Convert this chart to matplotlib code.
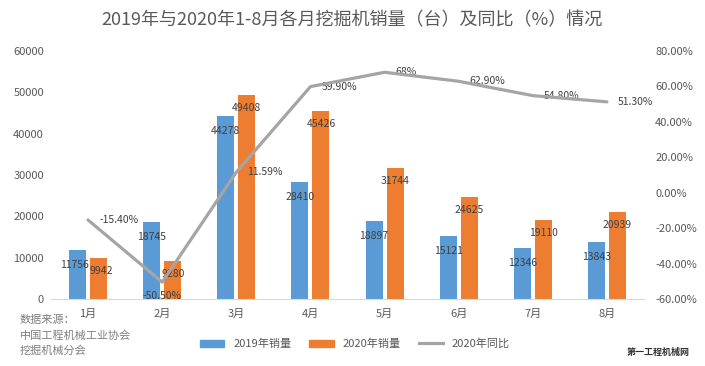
import numpy as np
import matplotlib; matplotlib.use("Agg")
import matplotlib.pyplot as plt
from matplotlib.lines import Line2D
from matplotlib.patches import Patch

plt.rcParams['font.family'] = ['Noto Sans CJK SC', 'DejaVu Sans']

# ─── Data ─────────────────────────────────────────────────────────────────────
months     = ["1月", "2月", "3月", "4月", "5月", "6月", "7月", "8月"]
sales_2019 = [11756, 18745, 44278, 28410, 18897, 15121, 12346, 13843]
sales_2020 = [9942, 9280, 49408, 45426, 31744, 24625, 19110, 20939]
yoy_2020   = [-15.40, -50.50, 11.59, 59.90, 68, 62.90, 54.80, 51.30]
yoy_labels = ["-15.40%", "-50.50%", "11.59%", "59.90%", "68%", "62.90%", "54.80%", "51.30%"]
left_ticks  = [0, 10000, 20000, 30000, 40000, 50000, 60000]
right_ticks = [-60, -40, -20, 0, 20, 40, 60, 80]

BLUE, ORANGE, GREY = "#5B9BD5", "#ED7D31", "#A5A5A5"
TXT, LBL = "#595959", "#404040"

W, H = 705, 366
fig = plt.figure(figsize=(W/100, H/100), dpi=100)
ax = fig.add_axes([51/W, 67/H, 593/W, 248/H])
x = np.arange(len(months))
bw, off = 0.23, 0.142

ax.bar(x - off, sales_2019, bw, color=BLUE, zorder=2)
ax.bar(x + off, sales_2020, bw, color=ORANGE, zorder=2)
# Jan labels overlap in the original too; nudge them apart a little
nudge19 = [-3, 0, 0, 0, 0, 0, 0, 0]
nudge20 = [3, 0, 0, 0, 0, 0, 0, 0]
for xi, v, dx in zip(x, sales_2019, nudge19):
    ax.annotate(str(v), (xi - off, v), xytext=(dx, -15), textcoords="offset pixels",
                ha="center", va="center", fontsize=7.5, color=LBL, zorder=3)
for xi, v, dx in zip(x, sales_2020, nudge20):
    ax.annotate(str(v), (xi + off, v), xytext=(dx, -13), textcoords="offset pixels",
                ha="center", va="center", fontsize=7.5, color=LBL, zorder=3)

ax.set_xlim(-0.5, len(months) - 0.5)
ax.set_ylim(0, 60000)
ax.set_yticks(left_ticks)
ax.set_xticks(x, months)
ax.tick_params(length=0, labelsize=8, labelcolor=TXT)
ax.tick_params(axis="y", pad=5)
ax.tick_params(axis="x", pad=7)
for s in ["top", "right", "left"]:
    ax.spines[s].set_visible(False)
ax.spines["bottom"].set_color("#d9d9d9")

ax2 = ax.twinx()
ax2.plot(x, yoy_2020, color=GREY, linewidth=2.3, solid_capstyle="round", zorder=4)
for i, (xi, v, t) in enumerate(zip(x, yoy_2020, yoy_labels)):
    if i == 1:
        ax2.annotate(t, (xi, v), xytext=(0, -14), textcoords="offset pixels",
                     ha="center", va="center", fontsize=7.5, color=LBL)
    else:
        ax2.annotate(t, (xi, v), xytext=(11, 0), textcoords="offset pixels",
                     ha="left", va="center", fontsize=7.5, color=LBL)
ax2.set_ylim(-60, 80)
ax2.set_yticks(right_ticks, [f"{t:.2f}%" for t in right_ticks])
ax2.tick_params(length=0, labelsize=8, labelcolor=TXT, pad=8)
for s in ax2.spines.values():
    s.set_visible(False)

fig.text(352/W, 1 - 20/H, "2019年与2020年1-8月各月挖掘机销量（台）及同比（%）情况",
         ha="center", va="center", fontsize=13, color=TXT)

handles = [Patch(color=BLUE), Patch(color=ORANGE), Line2D([], [], color=GREY, lw=2.3)]
fig.legend(handles, ["2019年销量", "2020年销量", "2020年同比"], loc="center",
           bbox_to_anchor=(355/W, 1 - 344/H), ncol=3, frameon=False, fontsize=8,
           handlelength=2.2, handleheight=0.7, columnspacing=1.6, labelcolor=TXT)

for yy, t in zip([320, 336, 351], ["数据来源：", "中国工程机械工业协会", "挖掘机械分会"]):
    fig.text(20/W, 1 - yy/H, t, ha="left", va="center", fontsize=8, color="#7f7f7f")

fig.text(658/W, 1 - 352/H, "第一工程机械网", ha="center", va="center", fontsize=6.5,
         color="#303030", fontweight="bold")

fig.savefig("out.png", dpi=100)
